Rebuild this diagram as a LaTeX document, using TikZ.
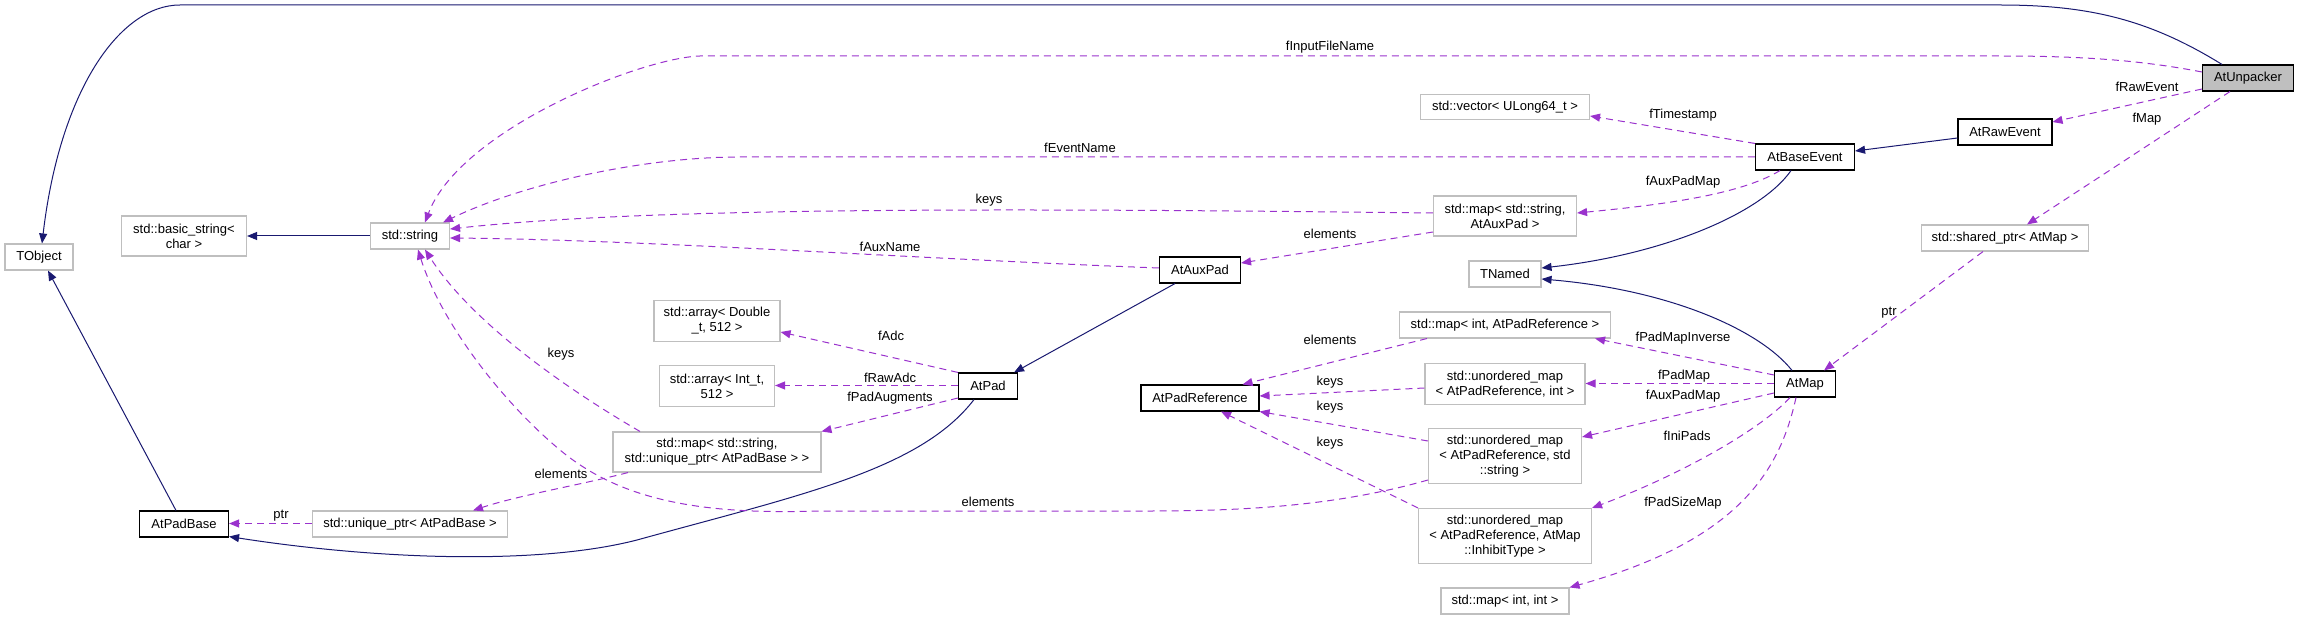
\documentclass[tikz,border=0pt]{standalone}
\usepackage{fontspec}
\setmainfont{Liberation Sans}
\usepackage{tikz}
\usetikzlibrary{arrows.meta}
\definecolor{inhblue}{HTML}{191970}
\definecolor{usepurple}{HTML}{9A32CD}
\definecolor{extgray}{HTML}{BFBFBF}
\tikzset{cls/.style={draw=black, line width=1.1pt, fill=white, inner sep=0pt, align=center},
    ext/.style={draw=extgray, line width=1.1pt, fill=white, inner sep=0pt, align=center},
    inh/.style={draw=inhblue, line width=1pt, -{Triangle[length=10pt,width=8pt]}},
    use/.style={draw=usepurple, line width=1pt, dash pattern=on 7pt off 5pt, -{Triangle[length=10pt,width=8pt]}},
    lbl/.style={inner sep=0pt}}

\begin{document}
\begin{tikzpicture}[x=1pt, y=-1pt, font=\fontsize{13}{15}\selectfont]
\useasboundingbox (0,0) rectangle (2299,620);

                 \node[ext, minimum width=68pt, minimum height=26pt] (tobj) at (39,257) {TObject};
                 \node[ext, minimum width=125pt, minimum height=40pt] (bstr) at (184,236) {std::basic\_string<\\ char >};
                 \node[ext, minimum width=79pt, minimum height=26pt] (str) at (410,236) {std::string};
                 \node[cls, minimum width=89pt, minimum height=26pt] (padbase) at (184,524) {AtPadBase};
                 \node[ext, minimum width=195pt, minimum height=26pt] (uptr) at (410,524) {std::unique\_ptr< AtPadBase >};

                 \node[ext, minimum width=126pt, minimum height=41pt] (arrd) at (717,321) {std::array< Double\\ \_t, 512 >};
                 \node[ext, minimum width=115pt, minimum height=41pt] (arri) at (717,386) {std::array< Int\_t,\\ 512 >};
                 \node[ext, minimum width=208pt, minimum height=40pt] (mapaug) at (717,452) {std::map< std::string,\\ std::unique\_ptr< AtPadBase > >};
                 \node[cls, minimum width=59pt, minimum height=26pt] (pad) at (988,386) {AtPad};

                 \node[cls, minimum width=81pt, minimum height=26pt] (auxpad) at (1200,270) {AtAuxPad};
                 \node[cls, minimum width=118pt, minimum height=26pt] (padref) at (1200,398) {AtPadReference};

                 \node[ext, minimum width=169pt, minimum height=25pt] (vec) at (1505,107) {std::vector< ULong64\_t >};
                 \node[ext, minimum width=143pt, minimum height=40pt] (mapaux) at (1505,216) {std::map< std::string,\\ AtAuxPad >};
                 \node[ext, minimum width=72pt, minimum height=26pt] (tnamed) at (1505,274) {TNamed};
                 \node[ext, minimum width=211pt, minimum height=26pt] (mapinv) at (1505,325) {std::map< int, AtPadReference >};
                 \node[ext, minimum width=160pt, minimum height=41pt] (umapint) at (1505,384) {std::unordered\_map\\ < AtPadReference, int >};
                 \node[ext, minimum width=153pt, minimum height=55pt] (umapstr) at (1505,456) {std::unordered\_map\\ < AtPadReference, std\\ ::string >};
                 \node[ext, minimum width=173pt, minimum height=55pt] (umapinh) at (1505,536) {std::unordered\_map\\ < AtPadReference, AtMap\\ ::InhibitType >};
                 \node[ext, minimum width=128pt, minimum height=26pt] (mapii) at (1505,601) {std::map< int, int >};

                 \node[cls, minimum width=99pt, minimum height=26pt] (baseev) at (1805,157) {AtBaseEvent};
                 \node[cls, minimum width=61pt, minimum height=26pt] (atmap) at (1805,384) {AtMap};
                 \node[cls, minimum width=94pt, minimum height=26pt] (rawev) at (2005,132) {AtRawEvent};
                 \node[ext, minimum width=167pt, minimum height=26pt] (sptr) at (2005,238) {std::shared\_ptr< AtMap >};
                 \node[cls, fill=extgray, minimum width=91pt, minimum height=26pt] (unpacker) at (2248,78) {AtUnpacker};

                 \draw[inh] ([xshift=-26pt]unpacker.north) .. controls (2150,20) and (2090,5) .. (2000,5) -- (180,5) .. controls (120,5) and (60,90) .. ([xshift=3pt]tobj.north);
                 \draw[inh] ([xshift=-8pt]padbase.north) -- ([xshift=9pt]tobj.south);
                 \draw[inh] (str.west) -- (bstr.east);
                 \draw[inh] ([xshift=-14pt]pad.south) .. controls (920,470) and (800,495) .. (637,540) .. controls (540,565) and (380,560) .. ([yshift=1pt]padbase.south east);
                 \draw[inh] ([xshift=-25pt]auxpad.south) -- ([xshift=-4pt]pad.north east);
                 \draw[inh] ([yshift=-6pt]rawev.west) -- ([yshift=6pt]baseev.east);
                 \draw[inh] ([xshift=-14pt]baseev.south) .. controls (1760,215) and (1660,255) .. ([yshift=6pt]tnamed.east);
                 \draw[inh] ([xshift=-13pt]atmap.north) .. controls (1760,330) and (1670,290) .. ([yshift=-5pt]tnamed.east);

                 \draw[use] ([yshift=6pt]unpacker.west) .. controls (2140,60) and (2080,56) .. (2000,56) -- (700,56) .. controls (640,58) and (460,130) .. ([xshift=15pt]str.north);
                 \draw[use] ([yshift=-11pt]unpacker.west) -- ([yshift=10pt]rawev.east);
                 \draw[use] ([xshift=-18pt]unpacker.south) -- ([xshift=22pt]sptr.north);
                 \draw[use] ([xshift=-22pt]sptr.south) -- ([xshift=19pt]atmap.north);
                 \draw[use] (baseev.north west) -- ([yshift=-9pt]vec.east);
                 \draw[use] (baseev.west) -- (740,157) .. controls (640,157) and (520,185) .. ([xshift=-7pt]str.north east);
                 \draw[use] ([xshift=-25pt]baseev.south) .. controls (1740,195) and (1660,205) .. ([yshift=3pt]mapaux.east);
                 \draw[use] ([yshift=3pt]mapaux.west) .. controls (1000,208) and (650,207) .. ([yshift=7pt]str.east);
                 \draw[use] ([yshift=-16pt]mapaux.west) -- ([yshift=7pt]auxpad.east);
                 \draw[use] ([yshift=2pt]auxpad.west) .. controls (900,258) and (650,240) .. ([yshift=-2pt]str.east);

                 \draw[use] (pad.north west) -- ([yshift=-11pt]arrd.east);
                 \draw[use] ([yshift=0.5pt]pad.west) -- ([yshift=0.5pt]arri.east);
                 \draw[use] ([yshift=-12pt]pad.west) -- (mapaug.north east);
                 \draw[use] ([xshift=-77pt]mapaug.north) .. controls (560,385) and (470,320) .. ([xshift=15pt]str.south);
                 \draw[use] ([xshift=-89pt]mapaug.south) .. controls (580,485) and (520,495) .. ([xshift=63pt]uptr.north);
                 \draw[use] ([yshift=0.5pt]uptr.west) -- ([yshift=0.5pt]padbase.east);
                 \draw[use] ([yshift=-24pt]umapstr.west) .. controls (1340,505) and (1250,511) .. (1150,511) -- (820,511) .. controls (700,515) and (620,500) .. (560,450) .. controls (500,400) and (440,320) .. ([xshift=8pt]str.south);

                 \draw[use] ([yshift=9pt]atmap.west) -- ([xshift=-16pt]mapinv.south east);
                 \draw[use] ([yshift=0.5pt]atmap.west) -- ([yshift=0.5pt]umapint.east);
                 \draw[use] ([yshift=-9pt]atmap.west) -- ([yshift=19pt]umapstr.east);
                 \draw[use] ([xshift=-15pt]atmap.south) .. controls (1760,430) and (1680,475) .. (umapinh.north east);
                 \draw[use] ([xshift=-9pt]atmap.south) .. controls (1780,470) and (1740,540) .. (mapii.north east);

                 \draw[use] ([xshift=28pt]mapinv.south west) -- ([xshift=-17pt]padref.north east);
                 \draw[use] ([yshift=-4pt]umapint.west) -- ([yshift=2pt]padref.east);
                 \draw[use] ([yshift=15pt]umapstr.west) -- (padref.south east);
                 \draw[use] (umapinh.north west) -- ([xshift=21pt]padref.south);

                 \node[lbl] (lInput) at (1330,47) {fInputFileName};
                 \node[lbl] (lRawEv) at (2147,87) {fRawEvent};
                 \node[lbl] (lMap) at (2147,119) {fMap};
                 \node[lbl] (lPtrMap) at (1889,313) {ptr};
                 \node[lbl] (lStamp) at (1683,115) {fTimestamp};
                 \node[lbl] (lEvName) at (1080,148) {fEventName};
                 \node[lbl] (lKeysAux) at (989,200) {keys};
                 \node[lbl] (lAuxName) at (890,247) {fAuxName};
                 \node[lbl] (lElemAux) at (1330,234) {elements};
                 \node[lbl] (lAuxMap) at (1683,182) {fAuxPadMap};
                 \node[lbl] (lAdc) at (891,336) {fAdc};
                 \node[lbl] (lRawAdc) at (890,378) {fRawAdc};
                 \node[lbl] (lAug) at (890,398) {fPadAugments};
                 \node[lbl] (lKeysAug) at (561,354) {keys};
                 \node[lbl] (lElemAug) at (561,474) {elements};
                 \node[lbl] (lPtrBase) at (281,516) {ptr};
                 \node[lbl] (lElemStr) at (988,502) {elements};
                 \node[lbl] (lInverse) at (1683,338) {fPadMapInverse};
                 \node[lbl] (lPadMap) at (1684,376) {fPadMap};
                 \node[lbl] (lAuxPadMap) at (1683,396) {fAuxPadMap};
                 \node[lbl] (lIni) at (1687,436) {fIniPads};
                 \node[lbl] (lSize) at (1683,503) {fPadSizeMap};
                 \node[lbl] (lElemRef) at (1330,340) {elements};
                 \node[lbl] (lKeysInt) at (1330,382) {keys};
                 \node[lbl] (lKeysStr) at (1330,407) {keys};
                 \node[lbl] (lKeysInh) at (1330,443) {keys};

\end{tikzpicture}
\end{document}
